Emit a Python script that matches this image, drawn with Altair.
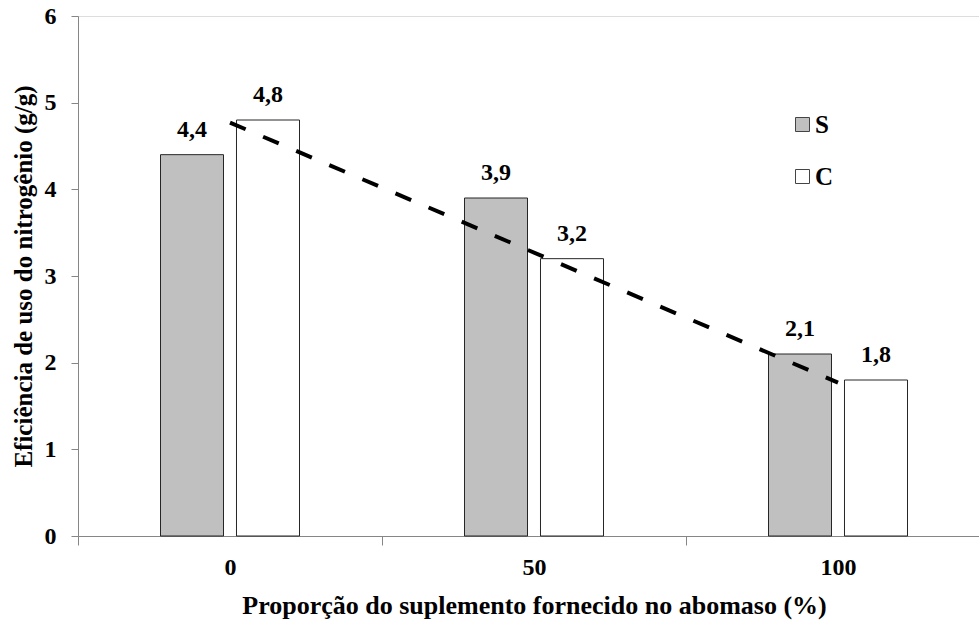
import altair as alt
import pandas as pd

categories = ["0", "50", "100"]
groups = ["S", "C"]
values_S = [4.4, 3.9, 2.1]
values_C = [4.8, 3.2, 1.8]
labels_S = ["4,4", "3,9", "2,1"]
labels_C = ["4,8", "3,2", "1,8"]
trend_x = ["0", "100"]
trend_y = [4.77, 1.77]

rows = []
for i, c in enumerate(categories):
    rows.append({"cat": c, "grp": "S", "val": values_S[i], "lab": labels_S[i]})
    rows.append({"cat": c, "grp": "C", "val": values_C[i], "lab": labels_C[i]})
df = pd.DataFrame(rows)
trend = pd.DataFrame({"cat": trend_x, "val": trend_y})

FONT = "Liberation Serif"

xscale = alt.Scale(domain=categories, range=[0, 912], paddingInner=0, paddingOuter=0)
yscale = alt.Scale(domain=[0, 6], nice=False)

x_enc = alt.X("cat:N", scale=xscale, sort=categories,
              axis=alt.Axis(title="Proporção do suplemento fornecido no abomaso (%)",
                            labelAngle=0, tickBand="extent", tickSize=9,
                            labelPadding=10, titlePadding=13,
                            domainColor="#868686", tickColor="#868686",
                            labelFont=FONT, labelFontSize=24, labelFontWeight="bold",
                            labelColor="black",
                            titleFont=FONT, titleFontSize=26, titleFontWeight="bold",
                            titleColor="black"))
y_enc = alt.Y("val:Q", scale=yscale,
              axis=alt.Axis(title="Eficiência de uso do nitrogênio (g/g)",
                            values=[0, 1, 2, 3, 4, 5, 6], format="d", tickSize=7,
                            labelPadding=15, titleX=-42, grid=False,
                            domainColor="#868686", tickColor="#868686",
                            labelFont=FONT, labelFontSize=24, labelFontWeight="bold",
                            labelColor="black",
                            titleFont=FONT, titleFontSize=25, titleFontWeight="bold",
                            titleColor="black"))
xoff = alt.XOffset("grp:N", sort=groups,
                   scale=alt.Scale(domain=groups, range=[82.5, 221.5],
                                   paddingInner=0.171, paddingOuter=0))

bars = alt.Chart(df).mark_bar(stroke="#262626", strokeWidth=1).encode(
    x=x_enc, y=y_enc, xOffset=xoff,
    color=alt.Color("grp:N", sort=groups,
                    scale=alt.Scale(domain=groups, range=["#c0c0c0", "#ffffff"]),
                    legend=alt.Legend(title=None, orient="none", legendX=712, legendY=96,
                                      symbolType="square", symbolSize=196,
                                      symbolStrokeColor="#444444", symbolStrokeWidth=1,
                                      labelFont=FONT, labelFontSize=25, labelFontWeight="bold",
                                      labelColor="black", labelOffset=0, rowPadding=26))
)

texts = alt.Chart(df).mark_text(font=FONT, fontSize=24, fontWeight="bold", dy=-18,
                                baseline="alphabetic", color="black").encode(
    x=alt.X("cat:N", scale=xscale, sort=categories),
    xOffset=xoff,
    y=alt.Y("val:Q", scale=yscale),
    text="lab:N"
)

line = alt.Chart(trend).mark_line(color="black", strokeWidth=4, strokeDash=[17, 19]).encode(
    x=alt.X("cat:N", scale=xscale, sort=categories),
    y=alt.Y("val:Q", scale=yscale)
)

chart = alt.layer(bars, texts, line).properties(
    width=901, height=520,
    autosize=alt.AutoSizeParams(type="none"),
    padding={"left": 78, "top": 16, "right": 0, "bottom": 85},
).configure_view(stroke=None).configure(background="white")

chart.save("out.html", embed_options={"renderer": "svg", "actions": False})
